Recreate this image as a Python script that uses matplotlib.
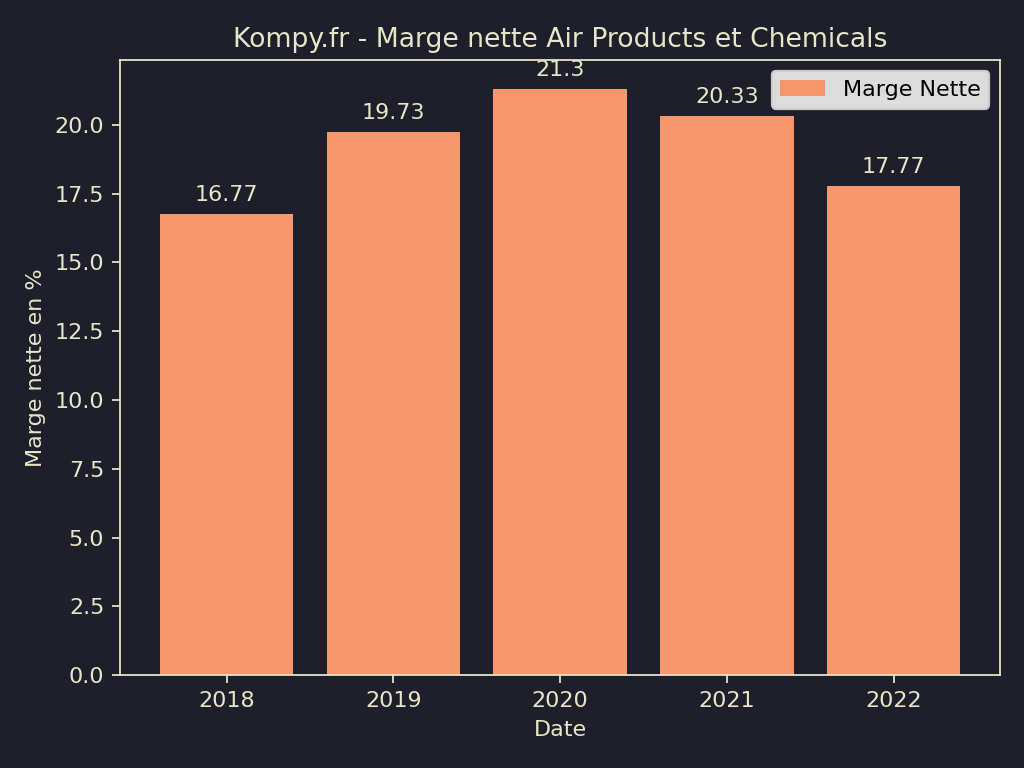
import matplotlib
matplotlib.use('Agg')
import matplotlib.pyplot as plt

years = ['2018', '2019', '2020', '2021', '2022']
marge = [16.77, 19.73, 21.3, 20.33, 17.77]

bg = '#1e1f2a'
fg = '#e8e6c8'
bar_color = '#f4976c'

plt.rcParams['font.family'] = 'DejaVu Sans'
fig, ax = plt.subplots(figsize=(6.4, 4.8), dpi=160)
fig.patch.set_facecolor(bg)
ax.set_facecolor(bg)

bars = ax.bar(years, marge, color=bar_color, label='Marge Nette')
for b, v in zip(bars, marge):
    ax.annotate(f'{v:g}', (b.get_x() + b.get_width() / 2, b.get_height()),
                xytext=(0, 4), textcoords='offset points',
                ha='center', va='bottom', color=fg, fontsize=10)

ax.set_title('Kompy.fr - Marge nette Air Products et Chemicals', color=fg, fontsize=12)
ax.set_xlabel('Date', color=fg)
ax.set_ylabel('Marge nette en %', color=fg)
ax.tick_params(colors=fg)
for s in ax.spines.values():
    s.set_color(fg)

leg = ax.legend(loc='upper right', facecolor='#dcdcdc', framealpha=1)
for t in leg.get_texts():
    t.set_color('black')

fig.subplots_adjust(left=0.117, right=0.977, top=0.922, bottom=0.121)
fig.savefig('out.png', facecolor=bg)
